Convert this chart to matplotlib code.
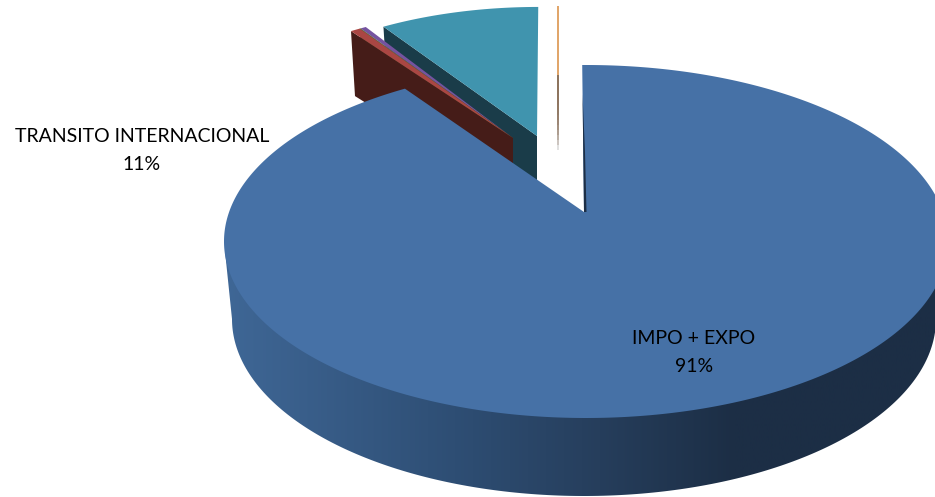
import numpy as np
import matplotlib
matplotlib.use('Agg')
import matplotlib.pyplot as plt
from matplotlib.patches import Polygon

# slices, clockwise from the top of the pie (percent of the circle)
categories = ['IMPO + EXPO', 'rojo', 'verde', 'violeta', 'TRANSITO INTERNACIONAL', 'naranja']
shares = [91.83, 0.5, 0.05, 0.3, 8.1, 0.02]
label_names = ['TRANSITO INTERNACIONAL', 'IMPO + EXPO']
label_pcts = ['11%', '91%']

# top face of the pie
CX, CY, RX, RY = 586, 241.5, 362, 176.5
APEX = (584, 212)
START = -0.6
# bottom rim of the main slice
BX, BY, BRX, BRY = 584, 319, 352, 177

# per slice style: apex, scale, angle nudge (perspective), depth, top colour, side colour
apexes = [APEX, (513, 138), (513, 138), (513, 138), (537, 136), (558, 75)]
scales = [1, 0.878, 0.878, 0.878, 0.878, 0.47]
nudges = [0, -1, -1, -1, -2.3, -2.3]
tops = ['#4671A6', '#AA4643', '#71893F', '#7553A0', '#4094AE', '#D98B3F']
sides = ['#1C2E45', '#451C18', '#3C4A22', '#3C2A55', '#1A3C49', '#6B4A2E']


def rim(theta, apex, s):
    # point of the rim at angle theta (degrees, clockwise from top)
    t = np.radians(theta)
    x = apex[0] + s * (CX - APEX[0] + RX * np.sin(t))
    y = apex[1] + s * (CY - APEX[1] - RY * np.cos(t))
    return np.column_stack([x, y])


fig = plt.figure(figsize=(9.35, 4.97), dpi=100)
ax = fig.add_axes([0, 0, 1, 1])
ax.set_xlim(0, 935)
ax.set_ylim(497, 0)
ax.axis('off')

edges = START + np.cumsum([0] + shares) * 3.6
spans = [(edges[i] + nudges[i], edges[i + 1] + nudges[i]) for i in range(len(shares))]

# naranja: just a hairline, top then fading side
a0, a1 = spans[5]
p = rim(a0, apexes[5], scales[5])[0]
ax.plot([apexes[5][0], apexes[5][0]], [p[1], apexes[5][1]], color=tops[5], lw=1.1, zorder=1, solid_capstyle='butt')
fade_y = np.linspace(apexes[5][1], 150, 16)
fade_c = np.linspace(0, 1, 15)
for i in range(15):
    c = (1 - fade_c[i] ** 4) * np.array([0.42, 0.29, 0.18]) + fade_c[i] ** 4 * np.array([0.85, 0.85, 0.85])
    ax.plot([apexes[5][0]] * 2, fade_y[i:i + 2], color=c, lw=1.1, zorder=1, solid_capstyle='butt')

# exploded small slices, back to front
for z, i in enumerate([4, 3, 2, 1]):
    th = np.linspace(spans[i][0], spans[i][1], 40)
    arc = rim(th, apexes[i], scales[i])
    far = arc[0]
    ap = np.array(apexes[i], dtype=float)
    depth = 65
    face = [far, ap, ap + (0, depth - 8), far + (4, depth)]
    ax.add_patch(Polygon(face, closed=True, fc=sides[i], ec='none', zorder=2 + z))
    ax.add_patch(Polygon(np.vstack([ap, arc]), closed=True, fc=tops[i], ec='none', zorder=2.5 + z))

# main slice side with its gradient
t_left = np.linspace(-90, 90, 200)
bot_x = BX + BRX * np.sin(np.radians(t_left + 180))
bot_y = BY - BRY * np.cos(np.radians(t_left + 180))
wall = np.vstack([rim(np.array([270.0]), APEX, 1), np.column_stack([bot_x[::-1], bot_y[::-1]]),
                  rim(np.array([90.0]), APEX, 1)])
wall_patch = Polygon(wall, closed=True, fc='none', ec='none')
ax.add_patch(wall_patch)
grad_x = [225, 455, 600, 735, 950]
grad_r = [63, 46, 38, 28, 28]
grad_g = [103, 78, 62, 46, 46]
grad_b = [150, 116, 92, 69, 69]
xs = np.linspace(225, 950, 400)
rgb = np.dstack([np.interp(xs, grad_x, c)[None, :] / 255 for c in (grad_r, grad_g, grad_b)])
im = ax.imshow(rgb, extent=[225, 950, 497, 0], aspect='auto', zorder=8)
im.set_clip_path(wall_patch)
ax.set_xlim(0, 935)
ax.set_ylim(497, 0)

# main slice top
th = np.linspace(spans[0][0], spans[0][1], 600)
arc = rim(th, APEX, 1)
ax.add_patch(Polygon(np.vstack([APEX, arc]), closed=True, fc=tops[0], ec='none', zorder=9))
# thin dark cut face next to the gap
cut = [rim(spans[0][0], APEX, 0.8)[0], APEX, (APEX[0] + 2.5, APEX[1]), (APEX[0] + 1, APEX[1] - 60)]
ax.add_patch(Polygon(cut, closed=True, fc=sides[0], ec='none', zorder=10))

# labels
font = ['Lato', 'DejaVu Sans']
ax.text(142, 137, label_names[0], ha='center', va='center', fontsize=14, family=font, color='black', zorder=11)
ax.text(142, 165, label_pcts[0], ha='center', va='center', fontsize=14, family=font, color='black', zorder=11)
ax.text(694, 338, label_names[1], ha='center', va='center', fontsize=14, family=font, color='black', zorder=11)
ax.text(694, 366, label_pcts[1], ha='center', va='center', fontsize=14, family=font, color='black', zorder=11)

fig.savefig('out.png', dpi=100, facecolor='white')
